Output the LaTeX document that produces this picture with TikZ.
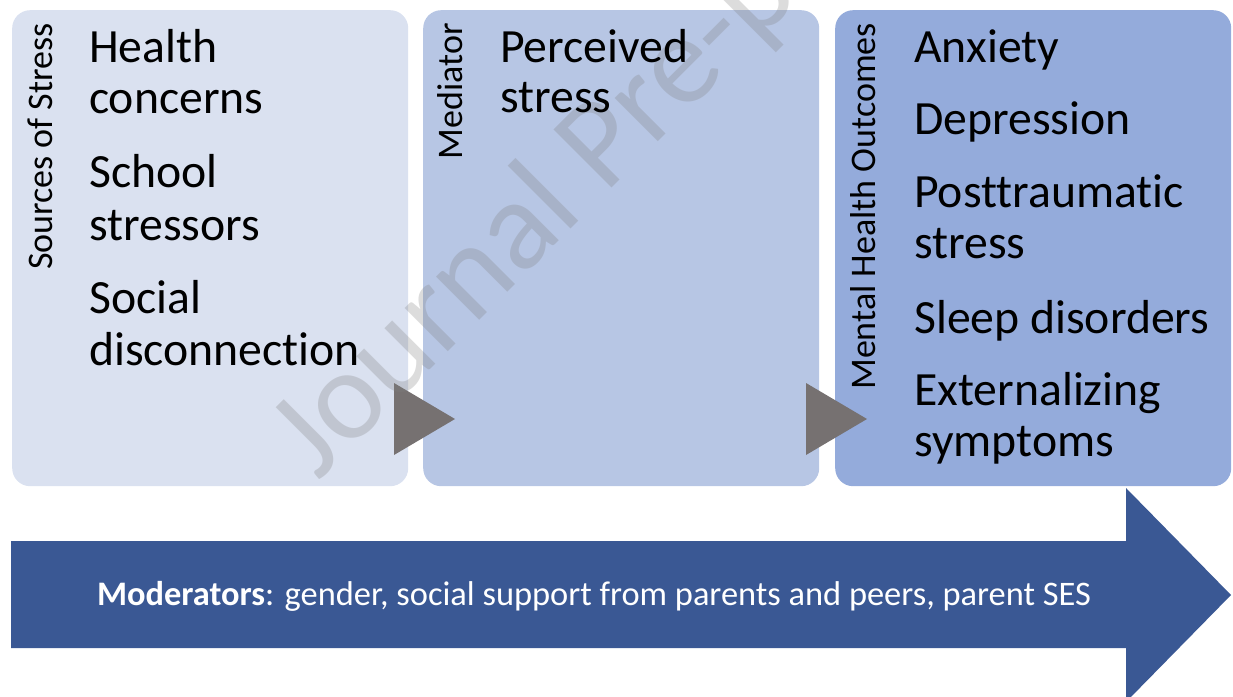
\documentclass[tikz,border=0pt]{standalone}
\usepackage{fontspec}
\setmainfont{Carlito}[Ligatures=NoCommon]
\definecolor{boxA}{HTML}{DAE1F0}
\definecolor{boxB}{HTML}{B7C6E4}
\definecolor{boxC}{HTML}{94ABDB}
\definecolor{chev}{HTML}{767171}
\definecolor{arrowblue}{HTML}{3A5894}
\begin{document}
\begin{tikzpicture}[x=1pt,y=-1pt,
  panel/.style={rounded corners=18pt, draw=none, inner sep=0pt, anchor=north west,
                minimum width=396pt, minimum height=476pt},
  item/.style={anchor=base west, inner sep=0pt, font=\fontsize{47.7}{52}\selectfont},
  vlabel/.style={rotate=90, anchor=base east, inner sep=0pt, font=\fontsize{36}{40}\selectfont},
  chevron/.style={fill=chev, draw=none},
  wmark/.style={rotate=45, anchor=base west, inner sep=0pt, text=gray, text opacity=0.28,
                font=\fontsize{128}{132}\selectfont}]
\useasboundingbox (0,0) rectangle (1233,696);
\clip (0,0) rectangle (1233,696);

% panels
\node[panel, fill=boxA] (src) at (12,10) {};
\node[panel, fill=boxB] (med) at (423,10) {};
\node[panel, fill=boxC] (out) at (835,10) {};

% chevrons
\fill[chevron] (394,383) -- (455,419) -- (394,455) -- cycle;
\fill[chevron] (806,383) -- (867,419) -- (806,455) -- cycle;

% moderators arrow
\fill[arrowblue] (11,541) -- (1126,541) -- (1126,488) -- (1231,595)
  -- (1126,702) -- (1126,648) -- (11,648) -- cycle;
\node[anchor=base, inner sep=0pt, text=white, font=\fontsize{34.4}{38}\selectfont] (mod)
  at (594,605) {\textbf{Moderators}: gender, social support from parents and peers, parent SES};

% watermark
\node[wmark] (wm) at (318,482) {Journal Pre-proof};

% vertical labels
\node[vlabel] (lsrc) at (52,23) {Sources of Stress};
\node[vlabel] (lmed) at (462,23) {Mediator};
\node[vlabel] (lout) at (875,23) {Mental Health Outcomes};

% items: sources
\node[item] (s1a) at (89,62) {Health};
\node[item] (s1b) at (89,113) {concerns};
\node[item] (s2a) at (89,187) {School};
\node[item] (s2b) at (89,240) {stressors};
\node[item] (s3a) at (89,313) {Social};
\node[item] (s3b) at (89,365) {disconnection};

% items: mediator
\node[item] (m1a) at (500,62) {Perceived};
\node[item] (m1b) at (500,112) {stress};

% items: outcomes
\node[item] (o1) at (914,62) {Anxiety};
\node[item] (o2) at (914,134) {Depression};
\node[item] (o3a) at (914,207) {Posttraumatic};
\node[item] (o3b) at (914,258) {stress};
\node[item] (o4) at (914,333) {Sleep disorders};
\node[item] (o5a) at (914,405) {Externalizing};
\node[item] (o5b) at (914,456) {symptoms};
\end{tikzpicture}
\end{document}
